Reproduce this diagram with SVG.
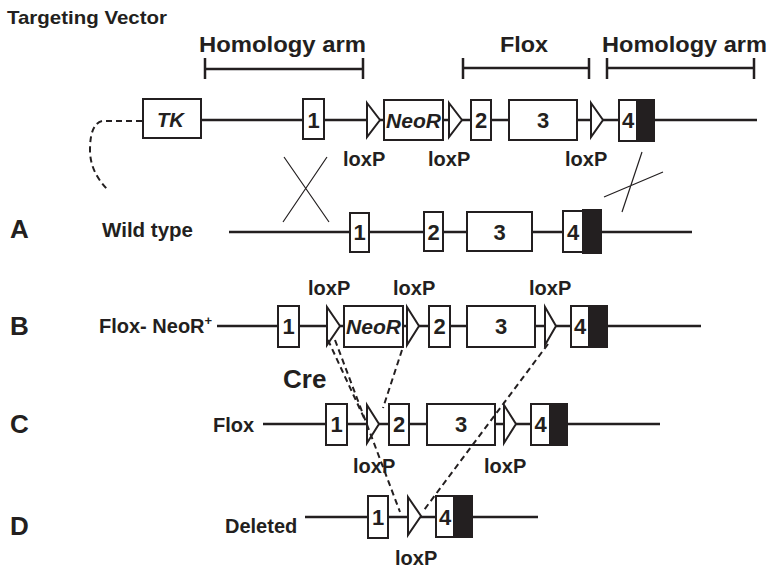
<svg xmlns="http://www.w3.org/2000/svg" width="771" height="570" viewBox="0 0 771 570">
<style>
text{font-family:"Liberation Sans",Arial,sans-serif;font-weight:bold;fill:#231f20}
.ln{stroke:#231f20;stroke-width:2.5;fill:none}
.bx{fill:#fff;stroke:#231f20;stroke-width:2}
.blk{fill:#231f20;stroke:#231f20;stroke-width:2}
.tri{fill:#fff;stroke:#231f20;stroke-width:2;stroke-linejoin:miter}
.ex{font-size:22px;text-anchor:middle}
.it{font-style:italic}
.lox{font-size:20px}
.lab{font-size:20px}
.big{font-size:26px}
.thin{stroke:#231f20;stroke-width:1.2;fill:none}
.dash{stroke:#231f20;stroke-width:2;stroke-dasharray:6 4;fill:none}
</style>
<rect width="771" height="570" fill="#fff"/>

<g id="titles">
<text x="7" y="24" font-size="19" textLength="160" lengthAdjust="spacingAndGlyphs">Targeting Vector</text>
<text x="199" y="52" font-size="22" textLength="167" lengthAdjust="spacingAndGlyphs">Homology arm</text>
<text x="500" y="52" font-size="22" textLength="48" lengthAdjust="spacingAndGlyphs">Flox</text>
<text x="602" y="52" font-size="22" textLength="165" lengthAdjust="spacingAndGlyphs">Homology arm</text>
</g>

<g id="brackets">
<path class="ln" d="M205,69 H363 M205,58 V79 M363,58 V79"/>
<path class="ln" d="M463,68 H589 M463,58 V79 M589,58 V79"/>
<path class="ln" d="M607,68 H754 M607,58 V79 M754,58 V79"/>
</g>

<g id="vector">
<path class="ln" d="M201,120 H757"/>
<path class="dash" d="M142,121 H102 Q90,124 90,150 Q90,172 108,190"/>
<g id="v-tk"><rect class="bx" x="143" y="99" width="58" height="39"/><text class="it" x="157" y="127" font-size="20" textLength="27" lengthAdjust="spacingAndGlyphs">TK</text></g>
<g id="v-e1"><rect class="bx" x="303" y="99" width="21" height="40"/><text class="ex" x="313.5" y="128">1</text></g>
<g id="v-lox1"><polygon class="tri" points="367,103 380,120 367,137"/><text class="lox" x="343" y="166">loxP</text></g>
<g id="v-neo"><rect class="bx" x="384" y="100" width="59" height="40"/><text class="it" x="386" y="128" font-size="20" textLength="55" lengthAdjust="spacingAndGlyphs">NeoR</text></g>
<g id="v-lox2"><polygon class="tri" points="449,103 462,120 449,137"/><text class="lox" x="428" y="166">loxP</text></g>
<g id="v-e2"><rect class="bx" x="471" y="100" width="20" height="40"/><text class="ex" x="481" y="128">2</text></g>
<g id="v-e3"><rect class="bx" x="509" y="100" width="68" height="40"/><text class="ex" x="543" y="128">3</text></g>
<g id="v-lox3"><polygon class="tri" points="591,103 603,120 591,137"/><text class="lox" x="565" y="166">loxP</text></g>
<g id="v-e4"><rect class="bx" x="619" y="100" width="18" height="41"/><rect class="blk" x="637" y="100" width="17" height="41"/><text class="ex" x="628" y="128">4</text></g>
</g>

<g id="rowA">
<text class="big" x="10" y="238">A</text>
<text class="lab" x="102" y="237" textLength="91" lengthAdjust="spacingAndGlyphs">Wild type</text>
<path class="ln" d="M229,232 H692"/>
<g id="a-e1"><rect class="bx" x="350" y="213" width="19" height="39"/><text class="ex" x="359.5" y="240">1</text></g>
<g id="a-e2"><rect class="bx" x="424" y="212" width="19" height="39"/><text class="ex" x="433.5" y="240">2</text></g>
<g id="a-e3"><rect class="bx" x="467" y="212" width="65" height="39"/><text class="ex" x="499.5" y="240">3</text></g>
<g id="a-e4"><rect class="bx" x="563" y="211" width="20" height="41"/><rect class="blk" x="583" y="210" width="18" height="43"/><text class="ex" x="573" y="240">4</text></g>
</g>

<g id="rowB">
<text class="big" x="10" y="335">B</text>
<text class="lab" x="99" y="333">Flox- NeoR<tspan font-size="13" dy="-8">+</tspan></text>
<path class="ln" d="M217,326 H701"/>
<g id="b-e1"><rect class="bx" x="278" y="306" width="21" height="41"/><text class="ex" x="288.5" y="334">1</text></g>
<g id="b-lox1"><polygon class="tri" points="327,307 340,326 327,345"/><text class="lox" x="308" y="295">loxP</text></g>
<g id="b-neo"><rect class="bx" x="344" y="306" width="59" height="41"/><text class="it" x="346" y="334" font-size="20" textLength="55" lengthAdjust="spacingAndGlyphs">NeoR</text></g>
<g id="b-lox2"><polygon class="tri" points="407,307 419,326 407,345"/><text class="lox" x="393" y="295">loxP</text></g>
<g id="b-e2"><rect class="bx" x="429" y="306" width="21" height="41"/><text class="ex" x="439.5" y="334">2</text></g>
<g id="b-e3"><rect class="bx" x="467" y="306" width="68" height="41"/><text class="ex" x="501" y="334">3</text></g>
<g id="b-lox3"><polygon class="tri" points="545,307 556,326 545,345"/><text class="lox" x="529" y="295">loxP</text></g>
<g id="b-e4"><rect class="bx" x="571" y="306" width="18" height="41"/><rect class="blk" x="589" y="306" width="18" height="41"/><text class="ex" x="580" y="334">4</text></g>
</g>

<g id="cre"><text x="283" y="388" font-size="26">Cre</text></g>

<g id="rowC">
<text class="big" x="10" y="433">C</text>
<text class="lab" x="213" y="432">Flox</text>
<path class="ln" d="M263,424 H660"/>
<g id="c-e1"><rect class="bx" x="326" y="404" width="21" height="41"/><text class="ex" x="336.5" y="432">1</text></g>
<g id="c-lox1"><polygon class="tri" points="367,405 379,424 367,443"/><text class="lox" x="353" y="473">loxP</text></g>
<g id="c-e2"><rect class="bx" x="389" y="404" width="20" height="41"/><text class="ex" x="399" y="432">2</text></g>
<g id="c-e3"><rect class="bx" x="427" y="404" width="68" height="41"/><text class="ex" x="461" y="432">3</text></g>
<g id="c-lox2"><polygon class="tri" points="504,405 516,424 504,443"/><text class="lox" x="484" y="473">loxP</text></g>
<g id="c-e4"><rect class="bx" x="531" y="404" width="19" height="41"/><rect class="blk" x="550" y="404" width="17" height="41"/><text class="ex" x="540.5" y="432">4</text></g>
</g>

<g id="rowD">
<text class="big" x="10" y="535">D</text>
<text class="lab" x="225" y="533">Deleted</text>
<path class="ln" d="M305,517 H538"/>
<g id="d-e1"><rect class="bx" x="368" y="496" width="20" height="42"/><text class="ex" x="378" y="525">1</text></g>
<g id="d-lox"><polygon class="tri" points="408,497 421,516 408,535"/><text class="lox" x="395" y="565">loxP</text></g>
<g id="d-e4"><rect class="bx" x="436" y="496" width="18" height="41"/><rect class="blk" x="454" y="496" width="18" height="41"/><text class="ex" x="445" y="525">4</text></g>
</g>

<g id="connectors">
<path class="thin" d="M284,157 L329,222 M327,157 L283,222"/>
<path class="thin" d="M642,152 L622,212 M604,197 L663,172"/>
<path class="dash" d="M328,340 L365,420"/>
<path class="dash" d="M335,340 L400,512"/>
<path class="dash" d="M402,350 L383,408"/>
<path class="dash" d="M548,344 L424,510"/>
</g>
</svg>
